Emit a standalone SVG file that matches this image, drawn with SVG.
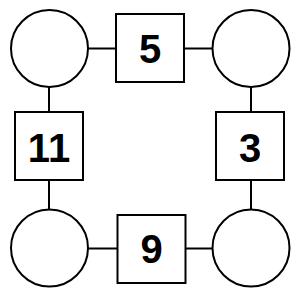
<svg xmlns="http://www.w3.org/2000/svg" width="300" height="300" viewBox="0 0 300 300">
<style>
.c{fill:#fff;stroke:#000;stroke-width:2}
.s{fill:#fff;stroke:#000;stroke-width:2}
.e{stroke:#000;stroke-width:2;fill:none}
.t{font-family:"Liberation Sans",Arial,sans-serif;font-weight:bold;font-size:40px;text-anchor:middle;fill:#000}
</style>
<rect width="300" height="300" fill="#fff"/>
<g id="connectors">
<line class="e" x1="88" y1="48.5" x2="116" y2="48.5"/>
<line class="e" x1="184" y1="48.5" x2="212" y2="48.5"/>
<line class="e" x1="49" y1="87" x2="49" y2="112"/>
<line class="e" x1="49" y1="180" x2="49" y2="209"/>
<line class="e" x1="251" y1="87" x2="251" y2="112"/>
<line class="e" x1="251" y1="180" x2="251" y2="209"/>
<line class="e" x1="88" y1="248.5" x2="117" y2="248.5"/>
<line class="e" x1="186" y1="248.5" x2="212" y2="248.5"/>
</g>
<g id="n-tl"><circle class="c" cx="49.5" cy="48.5" r="38.5"/></g>
<g id="n-tr"><circle class="c" cx="251" cy="48.5" r="38.5"/></g>
<g id="n-bl"><circle class="c" cx="49.5" cy="248" r="38.5"/></g>
<g id="n-br"><circle class="c" cx="251" cy="248" r="38.5"/></g>
<g id="n-top"><rect class="s" x="116" y="14" width="68" height="68"/><text class="t" x="150" y="63">5</text></g>
<g id="n-left"><rect class="s" x="15" y="112" width="68" height="68"/><text class="t" x="49" y="161.5">11</text></g>
<g id="n-right"><rect class="s" x="216" y="112" width="68" height="68"/><text class="t" x="250" y="161.5">3</text></g>
<g id="n-bottom"><rect class="s" x="117.5" y="215" width="68" height="68"/><text class="t" x="151.5" y="262.5">9</text></g>
</svg>
